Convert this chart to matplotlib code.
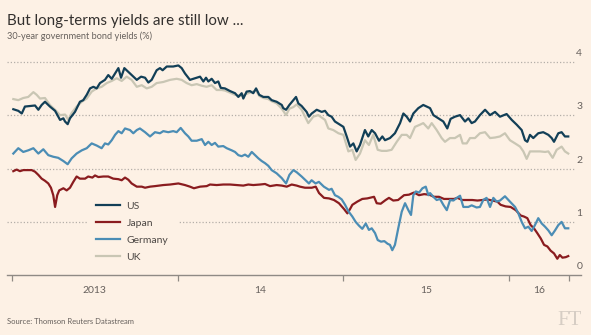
import matplotlib
matplotlib.use("Agg")
import matplotlib.pyplot as plt

# 30-year government bond yields (%), dates as decimal years
us_t = [2013.008, 2013.038, 2013.059, 2013.078, 2013.109, 2013.139, 2013.159, 2013.179, 2013.199, 2013.229,
        2013.260, 2013.290, 2013.310, 2013.320, 2013.336, 2013.350, 2013.380, 2013.410, 2013.430, 2013.451,
        2013.471, 2013.491, 2013.511, 2013.531, 2013.561, 2013.581, 2013.602, 2013.622, 2013.642, 2013.658,
        2013.678, 2013.702, 2013.732, 2013.753, 2013.779, 2013.803, 2013.823, 2013.843, 2013.873, 2013.893,
        2013.909, 2013.934, 2013.973, 2014.004, 2014.024, 2014.044, 2014.074, 2014.104, 2014.135, 2014.155,
        2014.171, 2014.185, 2014.205, 2014.225, 2014.245, 2014.260, 2014.285, 2014.316, 2014.346, 2014.366,
        2014.386, 2014.396, 2014.416, 2014.436, 2014.456, 2014.473, 2014.492, 2014.517, 2014.547, 2014.567,
        2014.597, 2014.628, 2014.637, 2014.654, 2014.674, 2014.698, 2014.714, 2014.728, 2014.748, 2014.778,
        2014.792, 2014.809, 2014.839, 2014.869, 2014.889, 2014.909, 2014.929, 2014.949, 2014.979, 2015.000,
        2015.020, 2015.040, 2015.060, 2015.080, 2015.100, 2015.130, 2015.150, 2015.171, 2015.191, 2015.215,
        2015.235, 2015.251, 2015.281, 2015.311, 2015.342, 2015.362, 2015.382, 2015.402, 2015.422, 2015.452,
        2015.482, 2015.503, 2015.523, 2015.543, 2015.573, 2015.603, 2015.627, 2015.647, 2015.673, 2015.704,
        2015.734, 2015.754, 2015.774, 2015.794, 2015.824, 2015.855, 2015.885, 2015.915, 2015.945, 2015.985,
        2016.016, 2016.046, 2016.076, 2016.096, 2016.110, 2016.126, 2016.146, 2016.176, 2016.206, 2016.237,
        2016.257, 2016.271, 2016.297, 2016.317, 2016.337, 2016.357]
us_y = [3.11, 3.08, 3.03, 3.16, 3.17, 3.18, 3.10, 3.19, 3.25, 3.16,
        3.08, 2.91, 2.94, 2.88, 2.83, 2.94, 3.06, 3.25, 3.28, 3.38,
        3.50, 3.53, 3.50, 3.60, 3.66, 3.75, 3.68, 3.78, 3.88, 3.70,
        3.88, 3.81, 3.72, 3.66, 3.72, 3.70, 3.61, 3.66, 3.84, 3.88,
        3.84, 3.91, 3.91, 3.93, 3.88, 3.78, 3.66, 3.69, 3.72, 3.63,
        3.70, 3.63, 3.68, 3.60, 3.63, 3.51, 3.50, 3.45, 3.41, 3.34,
        3.41, 3.31, 3.44, 3.45, 3.41, 3.50, 3.38, 3.34, 3.34, 3.28,
        3.25, 3.19, 3.13, 3.10, 3.19, 3.28, 3.34, 3.22, 3.17, 3.06,
        2.97, 3.03, 3.10, 3.06, 3.08, 3.00, 2.97, 2.88, 2.82, 2.78,
        2.60, 2.41, 2.47, 2.32, 2.44, 2.72, 2.60, 2.72, 2.66, 2.52,
        2.60, 2.53, 2.57, 2.66, 2.85, 3.03, 2.97, 2.88, 3.03, 3.13,
        3.19, 3.16, 3.13, 3.00, 2.94, 2.88, 2.75, 2.93, 2.97, 3.00,
        2.88, 2.94, 2.85, 2.88, 3.00, 3.10, 3.00, 3.06, 2.97, 3.02,
        2.91, 2.82, 2.72, 2.53, 2.50, 2.63, 2.57, 2.66, 2.68, 2.63,
        2.57, 2.50, 2.66, 2.68, 2.60, 2.60]

uk_t = [2013.008, 2013.038, 2013.068, 2013.098, 2013.129, 2013.149, 2013.169, 2013.199, 2013.229, 2013.260,
        2013.290, 2013.320, 2013.340, 2013.360, 2013.390, 2013.421, 2013.451, 2013.481, 2013.511, 2013.541,
        2013.572, 2013.602, 2013.632, 2013.662, 2013.692, 2013.722, 2013.753, 2013.783, 2013.813, 2013.843,
        2013.873, 2013.913, 2013.954, 2013.994, 2014.024, 2014.054, 2014.084, 2014.115, 2014.145, 2014.175,
        2014.205, 2014.235, 2014.266, 2014.285, 2014.316, 2014.346, 2014.386, 2014.416, 2014.436, 2014.473,
        2014.492, 2014.517, 2014.547, 2014.567, 2014.597, 2014.628, 2014.654, 2014.674, 2014.698, 2014.718,
        2014.748, 2014.788, 2014.818, 2014.848, 2014.889, 2014.909, 2014.939, 2014.970, 2015.000, 2015.030,
        2015.054, 2015.074, 2015.100, 2015.130, 2015.154, 2015.180, 2015.207, 2015.231, 2015.261, 2015.291,
        2015.322, 2015.352, 2015.382, 2015.402, 2015.432, 2015.462, 2015.482, 2015.512, 2015.533, 2015.563,
        2015.593, 2015.613, 2015.643, 2015.673, 2015.704, 2015.720, 2015.744, 2015.764, 2015.794, 2015.824,
        2015.855, 2015.885, 2015.915, 2015.945, 2015.975, 2016.005, 2016.036, 2016.066, 2016.086, 2016.106,
        2016.126, 2016.156, 2016.187, 2016.217, 2016.237, 2016.263, 2016.287, 2016.317, 2016.337, 2016.357]
uk_y = [3.30, 3.28, 3.32, 3.34, 3.43, 3.38, 3.31, 3.32, 3.19, 3.10,
        3.00, 3.01, 2.91, 3.04, 3.16, 3.25, 3.31, 3.44, 3.50, 3.53,
        3.60, 3.64, 3.69, 3.64, 3.72, 3.66, 3.53, 3.56, 3.50, 3.53,
        3.60, 3.62, 3.66, 3.68, 3.66, 3.60, 3.56, 3.58, 3.55, 3.53,
        3.56, 3.47, 3.47, 3.46, 3.42, 3.38, 3.36, 3.40, 3.42, 3.46,
        3.36, 3.32, 3.30, 3.26, 3.22, 3.12, 3.00, 3.12, 3.15, 3.20,
        3.10, 2.85, 2.97, 3.00, 2.91, 2.75, 2.72, 2.66, 2.63, 2.32,
        2.35, 2.16, 2.28, 2.53, 2.44, 2.63, 2.35, 2.33, 2.33, 2.35,
        2.50, 2.63, 2.63, 2.57, 2.78, 2.82, 2.85, 2.75, 2.85, 2.72,
        2.57, 2.50, 2.57, 2.57, 2.63, 2.47, 2.47, 2.57, 2.57, 2.66,
        2.68, 2.57, 2.58, 2.60, 2.66, 2.53, 2.47, 2.41, 2.32, 2.18,
        2.32, 2.32, 2.32, 2.31, 2.32, 2.20, 2.35, 2.41, 2.32, 2.28]

de_t = [2013.008, 2013.038, 2013.068, 2013.098, 2013.129, 2013.159, 2013.189, 2013.219, 2013.249, 2013.279,
        2013.310, 2013.336, 2013.360, 2013.390, 2013.421, 2013.451, 2013.481, 2013.511, 2013.541, 2013.561,
        2013.581, 2013.602, 2013.622, 2013.642, 2013.662, 2013.682, 2013.712, 2013.732, 2013.753, 2013.772,
        2013.803, 2013.833, 2013.863, 2013.893, 2013.913, 2013.943, 2013.973, 2013.994, 2014.018, 2014.044,
        2014.064, 2014.084, 2014.115, 2014.145, 2014.165, 2014.185, 2014.205, 2014.225, 2014.245, 2014.275,
        2014.296, 2014.326, 2014.346, 2014.366, 2014.386, 2014.406, 2014.426, 2014.447, 2014.467, 2014.487,
        2014.507, 2014.527, 2014.547, 2014.567, 2014.597, 2014.628, 2014.654, 2014.674, 2014.698, 2014.718,
        2014.748, 2014.772, 2014.792, 2014.808, 2014.832, 2014.852, 2014.882, 2014.913, 2014.929, 2014.949,
        2014.969, 2014.990, 2015.010, 2015.030, 2015.054, 2015.074, 2015.094, 2015.114, 2015.135, 2015.154,
        2015.171, 2015.191, 2015.207, 2015.227, 2015.247, 2015.267, 2015.281, 2015.295, 2015.311, 2015.331,
        2015.352, 2015.372, 2015.392, 2015.408, 2015.422, 2015.437, 2015.457, 2015.477, 2015.497, 2015.513,
        2015.523, 2015.543, 2015.563, 2015.583, 2015.603, 2015.624, 2015.644, 2015.664, 2015.684, 2015.704,
        2015.724, 2015.754, 2015.774, 2015.804, 2015.824, 2015.844, 2015.864, 2015.885, 2015.905, 2015.925,
        2015.945, 2015.975, 2016.005, 2016.036, 2016.056, 2016.076, 2016.096, 2016.116, 2016.136, 2016.156,
        2016.176, 2016.197, 2016.217, 2016.237, 2016.257, 2016.277, 2016.297, 2016.317, 2016.337, 2016.357]
de_y = [2.28, 2.38, 2.31, 2.34, 2.38, 2.28, 2.36, 2.25, 2.22, 2.20,
        2.14, 2.08, 2.19, 2.28, 2.34, 2.38, 2.47, 2.43, 2.38, 2.47,
        2.45, 2.53, 2.63, 2.70, 2.66, 2.75, 2.72, 2.66, 2.72, 2.75,
        2.68, 2.60, 2.68, 2.66, 2.70, 2.68, 2.70, 2.68, 2.76, 2.66,
        2.60, 2.52, 2.52, 2.55, 2.44, 2.50, 2.44, 2.48, 2.41, 2.42,
        2.38, 2.34, 2.31, 2.25, 2.23, 2.26, 2.22, 2.31, 2.25, 2.19,
        2.14, 2.10, 2.05, 1.97, 1.91, 1.82, 1.72, 1.88, 1.97, 1.93,
        1.85, 1.78, 1.72, 1.78, 1.72, 1.75, 1.66, 1.60, 1.62, 1.50,
        1.47, 1.42, 1.32, 1.20, 1.10, 1.00, 0.93, 0.87, 0.97, 0.85,
        0.88, 0.79, 0.66, 0.63, 0.64, 0.59, 0.57, 0.47, 0.57, 0.88,
        1.19, 1.35, 1.22, 1.13, 1.50, 1.57, 1.55, 1.63, 1.66, 1.50,
        1.54, 1.47, 1.41, 1.43, 1.32, 1.22, 1.41, 1.40, 1.45, 1.49,
        1.28, 1.28, 1.31, 1.27, 1.28, 1.41, 1.45, 1.28, 1.45, 1.38,
        1.40, 1.48, 1.38, 1.28, 1.16, 1.00, 0.88, 0.91, 0.83, 0.94,
        1.07, 0.97, 0.91, 0.84, 0.75, 0.84, 0.94, 1.00, 0.88, 0.88]

jp_t = [2013.008, 2013.028, 2013.048, 2013.068, 2013.098, 2013.119, 2013.139, 2013.159, 2013.179, 2013.199,
        2013.219, 2013.235, 2013.249, 2013.260, 2013.273, 2013.285, 2013.310, 2013.330, 2013.350, 2013.370,
        2013.390, 2013.410, 2013.441, 2013.460, 2013.485, 2013.501, 2013.521, 2013.551, 2013.581, 2013.611,
        2013.642, 2013.662, 2013.682, 2013.702, 2013.722, 2013.753, 2013.783, 2013.803, 2013.833, 2013.863,
        2013.913, 2013.954, 2014.004, 2014.044, 2014.074, 2014.098, 2014.135, 2014.175, 2014.195, 2014.235,
        2014.275, 2014.316, 2014.356, 2014.396, 2014.426, 2014.456, 2014.497, 2014.527, 2014.557, 2014.597,
        2014.628, 2014.658, 2014.688, 2014.718, 2014.738, 2014.768, 2014.809, 2014.833, 2014.853, 2014.883,
        2014.913, 2014.943, 2014.973, 2015.004, 2015.024, 2015.040, 2015.054, 2015.084, 2015.114, 2015.144,
        2015.185, 2015.201, 2015.225, 2015.255, 2015.275, 2015.301, 2015.330, 2015.346, 2015.366, 2015.396,
        2015.426, 2015.456, 2015.487, 2015.517, 2015.547, 2015.577, 2015.607, 2015.638, 2015.668, 2015.688,
        2015.718, 2015.748, 2015.778, 2015.809, 2015.839, 2015.869, 2015.899, 2015.929, 2015.949, 2015.979,
        2016.009, 2016.040, 2016.070, 2016.090, 2016.110, 2016.130, 2016.150, 2016.170, 2016.191, 2016.211,
        2016.231, 2016.251, 2016.271, 2016.291, 2016.306, 2016.322, 2016.342, 2016.357]
jp_y = [1.95, 1.98, 1.95, 1.97, 1.97, 1.97, 1.94, 1.88, 1.81, 1.77,
        1.72, 1.64, 1.50, 1.28, 1.50, 1.59, 1.63, 1.59, 1.64, 1.75,
        1.85, 1.81, 1.81, 1.85, 1.83, 1.87, 1.84, 1.85, 1.85, 1.81,
        1.80, 1.78, 1.83, 1.79, 1.72, 1.66, 1.66, 1.64, 1.66, 1.67,
        1.69, 1.70, 1.72, 1.69, 1.66, 1.63, 1.66, 1.67, 1.70, 1.69,
        1.70, 1.70, 1.69, 1.68, 1.70, 1.69, 1.70, 1.71, 1.67, 1.69,
        1.68, 1.66, 1.70, 1.68, 1.66, 1.64, 1.64, 1.66, 1.54, 1.45,
        1.44, 1.41, 1.35, 1.24, 1.16, 1.24, 1.32, 1.38, 1.43, 1.44,
        1.47, 1.35, 1.34, 1.41, 1.45, 1.40, 1.41, 1.45, 1.50, 1.51,
        1.55, 1.50, 1.52, 1.51, 1.47, 1.47, 1.43, 1.43, 1.43, 1.45,
        1.41, 1.41, 1.41, 1.40, 1.41, 1.42, 1.40, 1.38, 1.32, 1.29,
        1.28, 1.22, 1.12, 1.10, 1.07, 0.94, 0.88, 0.79, 0.69, 0.57,
        0.54, 0.46, 0.41, 0.31, 0.38, 0.33, 0.34, 0.36]

year_ticks = [2013, 2014, 2015, 2016, 2016.36]
year_labels = ["2013", "14", "15", "16"]
y_ticks = [0, 1, 2, 3, 4]

bg = "#fdf1e5"
W, H = 591, 335

plt.rcParams["font.family"] = ["Lato", "DejaVu Sans"]

fig = plt.figure(figsize=(W / 100, H / 100), dpi=100, facecolor=bg)
ax_l, ax_r, ax_b, ax_t = 7, 581, 275.3, 55
ax = fig.add_axes([ax_l / W, 1 - ax_b / H, (ax_r - ax_l) / W, (ax_b - ax_t) / H])
ax.set_facecolor(bg)

x0 = 2013 - 5 / 165.7
x1 = 2013 + (ax_r - 12) / 165.7
ax.set_xlim(x0, x1)
ax.set_ylim(0, (ax_b - ax_t) / 53.4)

for s in ["top", "right", "left"]:
    ax.spines[s].set_visible(False)
ax.spines["bottom"].set_color("#8f8a85")
ax.spines["bottom"].set_linewidth(1.0)

# dotted gridlines + labels sitting above them on the right
for v in y_ticks[1:]:
    ax.axhline(v, xmin=0, xmax=0.99, color="#b5afa9", lw=0.9,
               linestyle=(0, (1, 1.6)), zorder=1)
for v in y_ticks:
    ax.text(0.997, v + 0.11, str(v), transform=ax.get_yaxis_transform(),
            ha="center", va="baseline", fontsize=7.5, color="#66605c")
ax.set_yticks([])

ax.set_xticks(year_ticks)
ax.set_xticklabels([])
ax.tick_params(axis="x", which="major", length=4.5, width=0.9, color="#8f8a85")
mids = [(year_ticks[i] + year_ticks[i + 1]) / 2 for i in range(len(year_ticks) - 1)]
ax.set_xticks(mids, minor=True)
ax.set_xticklabels(year_labels, minor=True)
ax.tick_params(axis="x", which="minor", length=0, pad=8, labelsize=7.5, labelcolor="#66605c")

ax.plot(uk_t, uk_y, color="#c9c6b4", lw=1.6, label="UK", zorder=3)
ax.plot(jp_t, jp_y, color="#8a1c1f", lw=1.6, label="Japan", zorder=4)
ax.plot(de_t, de_y, color="#4b8db5", lw=1.6, label="Germany", zorder=5)
ax.plot(us_t, us_y, color="#123f57", lw=1.6, label="US", zorder=6)

handles, labels = ax.get_legend_handles_labels()
order = [3, 1, 2, 0]
leg = ax.legend([handles[i] for i in order], [labels[i] for i in order],
                loc="upper left", bbox_to_anchor=(87 / W, 1 - 192 / H),
                bbox_transform=fig.transFigure, borderaxespad=0,
                frameon=True, facecolor=bg, edgecolor="none", framealpha=1,
                fontsize=7.5, handlelength=2.3, handletextpad=0.6,
                labelspacing=0.75, borderpad=0.9)
for t in leg.get_texts():
    t.set_color("#4d4845")
leg.set_zorder(10)

fig.text(7 / W, 1 - 25 / H, "But long-terms yields are still low ...",
         fontsize=10.9, color="#33302e", va="baseline", ha="left")
fig.text(7 / W, 1 - 38.7 / H, "30-year government bond yields (%)",
         fontsize=6.6, color="#66605c", va="baseline", ha="left")
fig.text(7 / W, 1 - 324.3 / H, "Source: Thomson Reuters Datastream",
         fontsize=5.5, color="#66605c", va="baseline", ha="left")
fig.text(582 / W, 1 - 325 / H, "FT", fontsize=15, color="#d6cdc4",
         va="baseline", ha="right", family=["Liberation Serif", "DejaVu Serif"])

fig.savefig("out.png", dpi=100, facecolor=bg)
